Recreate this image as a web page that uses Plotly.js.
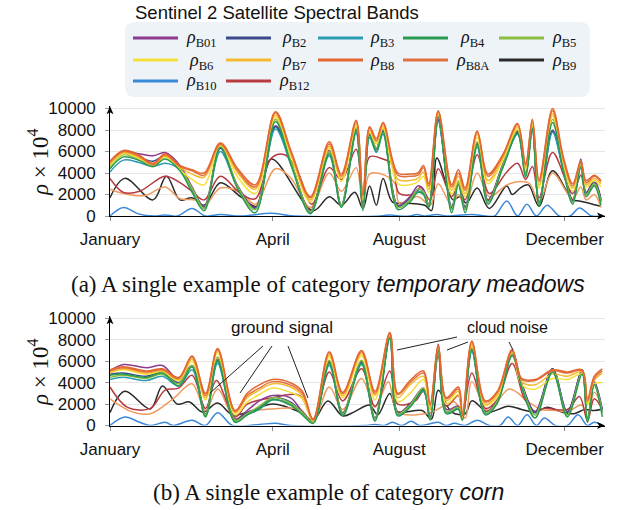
<!DOCTYPE html>
<html><head><meta charset="utf-8">
<script src="https://cdn.plot.ly/plotly-3.0.1.min.js"></script>
<style>html,body{margin:0;padding:0;background:#fff}</style>
</head><body><div id="chart" style="width:617px;height:510px"></div>
<script>
// ---------------- DATA ----------------
const legendTitle = 'Sentinel 2 Satellite Spectral Bands';
const bands = ['B01','B2','B3','B4','B5','B6','B7','B8','B8A','B9','B10','B12'];
const monthTickDays = [0, 121, 215, 338];
const monthTickText = ['January','April','August','December'];
const yTickVals = [0, 2000, 4000, 6000, 8000, 10000];
const yTickText = ['0','2000','4000','6000','8000','10000'];

// (a) temporary meadows
const dayA = [0,10,21,32,41,52,61,70,82,95,108,123,135,149,163,172,183,188,193,198,203,214,223,229,233,237,244,254,259,264,273,281,292,303,309,314,319,329,337,344,350,354,360,365];
const a_B8  = [5100,6100,5700,4900,5800,4700,4300,4000,6800,4400,2900,9700,5900,1800,6900,3900,8900,2000,8300,7200,8700,4000,3900,4000,4700,3000,9800,2900,4300,2600,7900,3900,5700,8600,4900,9000,3400,10000,5500,3000,5100,3300,3800,3300];
const a_B8A = [5000,6000,5600,4800,5700,4600,4200,3800,6700,4200,2700,9600,5800,1700,6700,3700,8800,1900,8200,7000,8600,3800,3700,3800,4500,2800,9700,2700,4000,2400,7800,3700,5600,8500,4700,8900,3200,9800,5300,2800,5000,3100,3700,3200];
const a_B7  = [4900,5900,5500,4700,5600,4500,3900,3600,6600,4000,2500,9400,5600,1500,6500,3500,8600,1700,8000,6900,8400,3400,3300,3500,4100,2500,9500,2400,3700,2100,7600,3300,5400,8300,4500,8700,2900,9500,5100,2600,4800,2900,3500,3000];
const a_B6  = [4700,5800,5400,4600,5500,4300,3400,2900,6500,3600,2100,9200,5400,1300,6300,3200,8400,1500,7800,6700,8200,3000,2900,3200,3700,2200,9300,2000,3300,1800,7300,3000,5200,8100,4300,8500,2600,9300,4900,2300,4600,2700,3300,2700];
const a_B01 = [4800,6000,5800,5600,5900,4700,2700,900,6400,2800,800,8400,4800,500,6100,1000,8100,800,7700,6300,8000,1000,1800,2800,2500,1100,9000,800,3300,800,6800,1500,4800,7900,4000,8200,1300,8000,4400,1500,5300,2200,3300,1600];
const a_B2  = [4700,5800,5500,5100,5600,4500,2500,800,6300,2700,700,8300,4700,400,6000,1000,8000,700,7600,6200,7900,900,1600,2500,2300,1000,8900,700,3200,700,6700,1400,4700,7800,3900,8100,1200,7900,4300,1400,5000,2100,3100,1500];
const a_B3  = [4100,5200,5000,4600,4900,4300,2500,700,6000,2600,600,8100,4600,300,5600,900,7700,700,7300,5900,7600,800,1500,2300,2100,900,8800,600,3000,600,6400,1300,4500,7600,3800,7900,1100,7800,4200,1300,4500,2000,2900,1300];
const a_B4  = [4400,5500,5200,4600,5300,4200,2200,500,6400,2500,300,8800,4600,200,5800,800,7900,500,7500,6000,7800,600,1300,2200,2000,800,9200,300,2900,300,6600,1100,4500,7700,3600,8100,900,8700,4200,1100,4600,1800,2800,1000];
const a_B5  = [4600,5700,5300,4700,5500,4400,2600,700,6500,2700,600,9000,4900,400,6000,1000,8200,700,7800,6300,8100,800,1500,2500,2300,1000,9400,600,3100,600,6900,1300,4700,8000,3900,8400,1100,9000,4500,1300,4800,2000,3000,1300];
const a_B12_day = [0,10,22,41,52,61,70,82,97,108,120,130,140,150,163,172,183,188,193,203,210,215,227,231,238,244,254,259,264,273,282,295,303,309,314,319,329,344,350,354,360,365];
const a_B12     = [3500,2200,2300,3700,3100,2300,1500,3700,2100,1600,5400,5700,4000,1100,4500,3400,6200,1200,5500,5300,4800,2100,2100,2700,1500,4400,1800,2900,1500,5700,2100,4100,4900,3400,4600,1700,5900,2100,3800,2100,3000,1400];
const a_B11_day = [0,10,26,41,52,63,70,82,97,108,123,134,149,163,172,183,188,193,204,212,215,229,238,244,254,259,264,273,282,295,305,312,319,329,344,350,354,360,365];
const a_B11     = [2500,2100,1900,2700,1600,1500,900,2600,2200,1100,4400,3600,800,4000,2300,4500,700,3900,3800,3000,1200,1800,1000,3000,1000,2000,900,4000,1800,2900,3200,3000,1300,4000,1600,2700,1500,2000,800];
const a_B9_day = [0,11,32,42,52,61,70,82,97,109,120,151,163,172,182,188,193,198,203,210,219,234,239,243,255,260,265,273,282,295,299,305,311,319,329,344,349,365];
const a_B9     = [1700,3500,1500,3700,1500,1700,1000,3100,1800,900,5300,500,1800,1000,2200,700,2800,1000,3500,1300,1200,1000,500,5400,1500,1800,1200,2600,700,2800,2000,2600,2900,900,4200,1500,1400,900];
const a_B10_day = [0,10,21,33,41,50,61,71,82,97,120,137,201,208,215,223,228,234,243,250,269,279,286,295,303,310,317,325,334,342,349,358,365];
const a_B10     = [0,800,200,0,100,0,700,0,150,0,250,0,0,100,0,0,150,0,150,0,150,0,0,1400,0,1100,0,1000,0,0,750,0,0];

// (b) corn
const dayB = [0,10,27,39,51,61,71,80,93,102,111,121,134,143,151,163,173,187,197,208,214,223,233,238,244,250,259,262,269,279,288,299,306,316,329,340,351,355,360,366];
const b_B8  = [5200,5500,5100,5300,4500,6500,3000,7200,1400,3000,3800,4300,4000,3200,600,6900,3100,7000,3200,8700,3000,4200,5100,2000,7500,2600,3600,1000,7900,2300,3200,7100,4400,4300,5200,5000,5200,2500,4600,5300];
const b_B8A = [5100,5400,5000,5200,4400,6400,2800,7100,1300,2800,3500,4100,3800,3000,500,6800,3000,6900,3000,8600,2900,4000,4900,1900,7400,2500,3400,900,7800,2200,3100,7000,4300,4200,5100,4900,5100,2300,4400,5100];
const b_B7  = [4900,5300,4900,5100,4300,6200,2600,7000,1200,2600,3300,3900,3600,2800,500,6600,2800,6700,2800,8500,2600,3800,4600,1700,7300,2300,3200,800,7600,2000,2900,6800,4100,3800,4800,4600,5000,2100,4200,4900];
const b_B6  = [5000,5200,4800,5000,4200,6000,2400,6800,1000,2200,2900,3500,3100,2500,400,6400,2600,6500,2400,8400,2200,3000,4300,1500,7100,2000,2900,700,7400,1900,2700,6600,3800,3400,4400,4300,4800,1900,3900,4000];
const b_B01 = [5100,5700,5400,5600,4300,5600,1100,6200,600,1400,2300,2800,2600,1300,400,6000,1200,6000,700,8300,1200,2000,3500,800,7600,1500,1800,700,7200,1300,2400,6900,4000,1300,5300,1300,5200,600,4100,1500];
const b_B2  = [4800,4900,4600,5000,4000,5500,1000,6000,500,1200,1700,2600,2200,1200,300,5900,1100,5900,600,8200,1100,2000,3400,700,7400,1300,1700,600,7100,1200,2300,6700,3900,1200,5300,1200,5200,500,4000,1400];
const b_B3  = [4300,4500,4200,4600,3700,5200,900,5800,400,1000,1500,2400,2000,1100,300,5600,1000,5700,600,8100,1000,1800,3200,700,7000,1200,1600,600,6900,1100,2200,6500,3700,1000,5000,1000,4900,500,3800,1200];
const b_B4  = [4700,4800,4500,4900,3700,5500,800,6100,300,1000,1600,2400,1900,1000,200,5800,900,5800,400,8200,900,1700,3300,500,7000,1100,1500,500,7100,1000,2100,6600,3600,700,5000,800,4800,300,3800,800];
const b_B5  = [4500,4700,4400,4800,3900,5600,1000,6400,500,1100,1800,2600,2100,1200,300,6100,1100,6100,600,8400,1100,1900,3500,700,7200,1300,1700,600,7300,1200,2300,6800,3800,1000,5100,1000,5000,500,3900,1200];
const b_B12_day = [0,13,30,41,51,61,71,79,93,102,121,141,151,163,173,187,197,208,214,227,233,238,244,250,259,262,269,279,288,299,308,316,323,340,349,355,360,366];
const b_B12     = [3600,1700,1600,3300,3500,4700,1600,4200,800,2000,2600,2800,600,5000,2300,5300,1800,5100,2000,2300,3200,1500,6500,1800,2800,1000,4900,1600,2400,5800,2500,1300,1600,1500,2700,500,2500,1500];
const b_B11_day = [0,17,30,47,61,71,80,93,102,121,141,151,163,173,187,197,207,214,238,256,264,269,281,297,311,321,331,340,351,355,360,366];
const b_B11     = [2500,1250,1100,2500,3900,1400,3400,600,1250,1550,1500,400,3600,1500,4400,1700,4100,1250,1200,2200,700,4100,1400,3400,2200,1500,1400,1300,1900,300,3100,1550];
const b_B9_day = [0,11,30,39,50,59,69,80,91,104,121,141,151,162,173,182,193,199,208,214,232,239,244,254,264,269,281,296,306,316,325,336,345,353,360,366];
const b_B9     = [1200,3200,1550,3700,2000,2200,1250,2100,1000,1300,2000,1250,500,2300,900,1300,1900,1000,3000,1300,1400,600,3300,1250,1100,2300,1250,1800,1500,1250,1700,1250,1100,1500,1400,1550];
const b_B10_day = [0,11,22,30,41,47,61,71,80,91,111,123,134,189,197,204,210,217,224,230,244,250,256,264,273,282,290,296,303,310,317,323,331,340,348,355,360,366];
const b_B10     = [0,800,300,0,300,0,500,0,1200,0,100,200,0,0,100,0,300,0,400,0,300,0,200,0,500,0,0,800,0,1000,0,700,0,0,1000,0,300,0];

// ---------------- STYLE ----------------
const colors = {B01:'#8c3a8e',B2:'#3b4a8a',B3:'#2b9bb2',B4:'#2a9a50',B5:'#8cbd40',B6:'#f6e03c',
  B7:'#f5ba30',B8:'#e5672f',B8A:'#e0713f',B9:'#2a2a2a',B10:'#3a88d8',B12:'#b73a40',B11:'#f09a60'};
const drawOrder = ['B10','B9','B11','B12','B01','B2','B3','B5','B6','B7','B4','B8A','B8'];

const panels = {
  a: {x:'x', y:'y', series:{
    B01:[dayA,a_B01],B2:[dayA,a_B2],B3:[dayA,a_B3],B4:[dayA,a_B4],B5:[dayA,a_B5],B6:[dayA,a_B6],
    B7:[dayA,a_B7],B8:[dayA,a_B8],B8A:[dayA,a_B8A],B9:[a_B9_day,a_B9],B10:[a_B10_day,a_B10],
    B12:[a_B12_day,a_B12],B11:[a_B11_day,a_B11]}},
  b: {x:'x2', y:'y2', series:{
    B01:[dayB,b_B01],B2:[dayB,b_B2],B3:[dayB,b_B3],B4:[dayB,b_B4],B5:[dayB,b_B5],B6:[dayB,b_B6],
    B7:[dayB,b_B7],B8:[dayB,b_B8],B8A:[dayB,b_B8A],B9:[b_B9_day,b_B9],B10:[b_B10_day,b_B10],
    B12:[b_B12_day,b_B12],B11:[b_B11_day,b_B11]}}
};

const traces = [];
['a','b'].forEach(function(p){
  const P = panels[p];
  drawOrder.forEach(function(b){
    const s = P.series[b];
    traces.push({
      type:'scatter', mode:'lines', x:s[0], y:s[1], xaxis:P.x, yaxis:P.y,
      name:'ρ ' + b, showlegend:false,
      line:{color:colors[b], width:1.5, shape:'spline', smoothing:1},
      hoverinfo:'skip'
    });
  });
});

// ---------------- LAYOUT ----------------
const W = 617, H = 510, ML = 110, MR = 12;
const PW = W - ML - MR;
const fx = p => (p - ML) / PW;   // pixel -> paper x
const fy = p => 1 - p / H;       // pixel -> paper y

const sans = 'Liberation Sans, Arial, sans-serif';
const serif = 'Liberation Serif, Times New Roman, serif';
const tickFont = {family:sans, size:17, color:'#111'};

const TOP_ZERO = 216, TOP_PX = 107.5, BOT_ZERO = 425.5, BOT_PX = 107;

function xAxis(anchor){
  return {domain:[0,1], anchor:anchor, range:[0,368], tickmode:'array', tickvals:monthTickDays,
    ticktext:monthTickText, showgrid:false, zeroline:false, showline:true, linecolor:'#000', linewidth:1,
    ticks:'outside', ticklen:4, tickcolor:'#888', tickfont:tickFont, ticklabelstandoff:4, fixedrange:true};
}
function yAxis(anchor, bottomPx, pxPer10k){
  return {domain:[fy(bottomPx), fy(bottomPx - 1.02*pxPer10k)], anchor:anchor, range:[0,10200],
    tickmode:'array', tickvals:yTickVals, ticktext:yTickText, showgrid:true, gridcolor:'#e6e6e6', gridwidth:1,
    zeroline:false, showline:true, linecolor:'#000', linewidth:1, ticks:'outside', ticklen:4, tickcolor:'#999',
    tickfont:tickFont, ticklabelstandoff:6, fixedrange:true};
}

function txt(text, px, py, size, family, opts){
  return Object.assign({xref:'paper', yref:'paper', x:fx(px), y:fy(py), text:text, showarrow:false,
    font:{family:family, size:size, color:'#111'}, xanchor:'center', yanchor:'middle'}, opts||{});
}
function seg(x0,y0,x1,y1,color,width){
  return {type:'line', xref:'paper', yref:'paper', x0:fx(x0), y0:fy(y0), x1:fx(x1), y1:fy(y1),
    line:{color:color||'#222', width:width||1}};
}
function tri(pts){
  return {type:'path', xref:'paper', yref:'paper', fillcolor:'#000', line:{width:0},
    path:'M' + pts.map(p => fx(p[0]) + ',' + fy(p[1])).join(' L') + ' Z'};
}
function axisArrows(zeroPx, topPx){
  const xEnd = ML + PW;
  return [
    tri([[xEnd, zeroPx], [xEnd - 8, zeroPx - 3.5], [xEnd - 6, zeroPx], [xEnd - 8, zeroPx + 3.5]]),
    tri([[ML, topPx], [ML - 3.5, topPx + 8], [ML, topPx + 6], [ML + 3.5, topPx + 8]])
  ];
}
function roundRect(x0,y0,x1,y1,r){
  const rx = r/PW, ry = r/H;
  const X0=fx(x0), X1=fx(x1), T=fy(y0), B=fy(y1);
  return {type:'path', xref:'paper', yref:'paper', layer:'below', fillcolor:'#eef3f8', line:{width:0},
    path:'M'+(X0+rx)+','+T+' L'+(X1-rx)+','+T+' Q'+X1+','+T+' '+X1+','+(T-ry)+' L'+X1+','+(B+ry)+
      ' Q'+X1+','+B+' '+(X1-rx)+','+B+' L'+(X0+rx)+','+B+' Q'+X0+','+B+' '+X0+','+(B+ry)+
      ' L'+X0+','+(T-ry)+' Q'+X0+','+T+' '+(X0+rx)+','+T+' Z'};
}

// legend (5 columns, drawn as swatches + text)
const legSwatchX = [133, 226, 318, 403, 499];
const legTextX = [201, 294, 382, 472, 564];
const legRowY = [38, 60, 81];
const shapes = [roundRect(125, 22, 590, 97, 10)];
const annotations = [txt(legendTitle, 133, 12, 18.5, sans, {xanchor:'left'})];
bands.forEach(function(b, i){
  const c = i % 5, r = Math.floor(i / 5);
  const y = legRowY[r];
  shapes.push(seg(legSwatchX[c], y, legSwatchX[c] + 45, y, colors[b], 3));
  annotations.push(txt('<i>ρ</i><sub>' + b + '</sub>', legTextX[c], y + 1, 18, serif));
});

// axis arrowheads
shapes.push.apply(shapes, axisArrows(TOP_ZERO, TOP_ZERO - 1.02*TOP_PX));
shapes.push.apply(shapes, axisArrows(BOT_ZERO, BOT_ZERO - 1.02*BOT_PX));

// callout leader lines
shapes.push(seg(263,346,210,393), seg(272,346,240,393), seg(288,346,308,398),
            seg(457,337,397,350), seg(468,342,447,350), seg(509,342,513,350));

const yTitle = '<i>ρ</i> × 10<sup>4</sup>';
annotations.push(
  txt(yTitle, 38, 162, 23, serif, {textangle:-90}),
  txt(yTitle, 38, 372, 23, serif, {textangle:-90}),
  txt('(a) A single example of category <span style="font-family:Liberation Sans"><i>temporary meadows</i></span>', 328, 284, 23, serif),
  txt('(b) A single example of category <span style="font-family:Liberation Sans"><i>corn</i></span>', 328, 492, 23, serif),
  txt('ground signal', 282, 327, 17, sans),
  txt('cloud noise', 507, 327, 16, sans)
);

const layout = {
  width:W, height:H, margin:{l:ML, r:MR, t:0, b:0}, paper_bgcolor:'#fff', plot_bgcolor:'rgba(0,0,0,0)',
  showlegend:false, hovermode:false,
  xaxis:xAxis('y'), yaxis:yAxis('x', TOP_ZERO, TOP_PX),
  xaxis2:xAxis('y2'), yaxis2:yAxis('x2', BOT_ZERO, BOT_PX),
  shapes:shapes, annotations:annotations
};

Plotly.newPlot('chart', traces, layout, {staticPlot:true, displayModeBar:false});
</script></body></html>
